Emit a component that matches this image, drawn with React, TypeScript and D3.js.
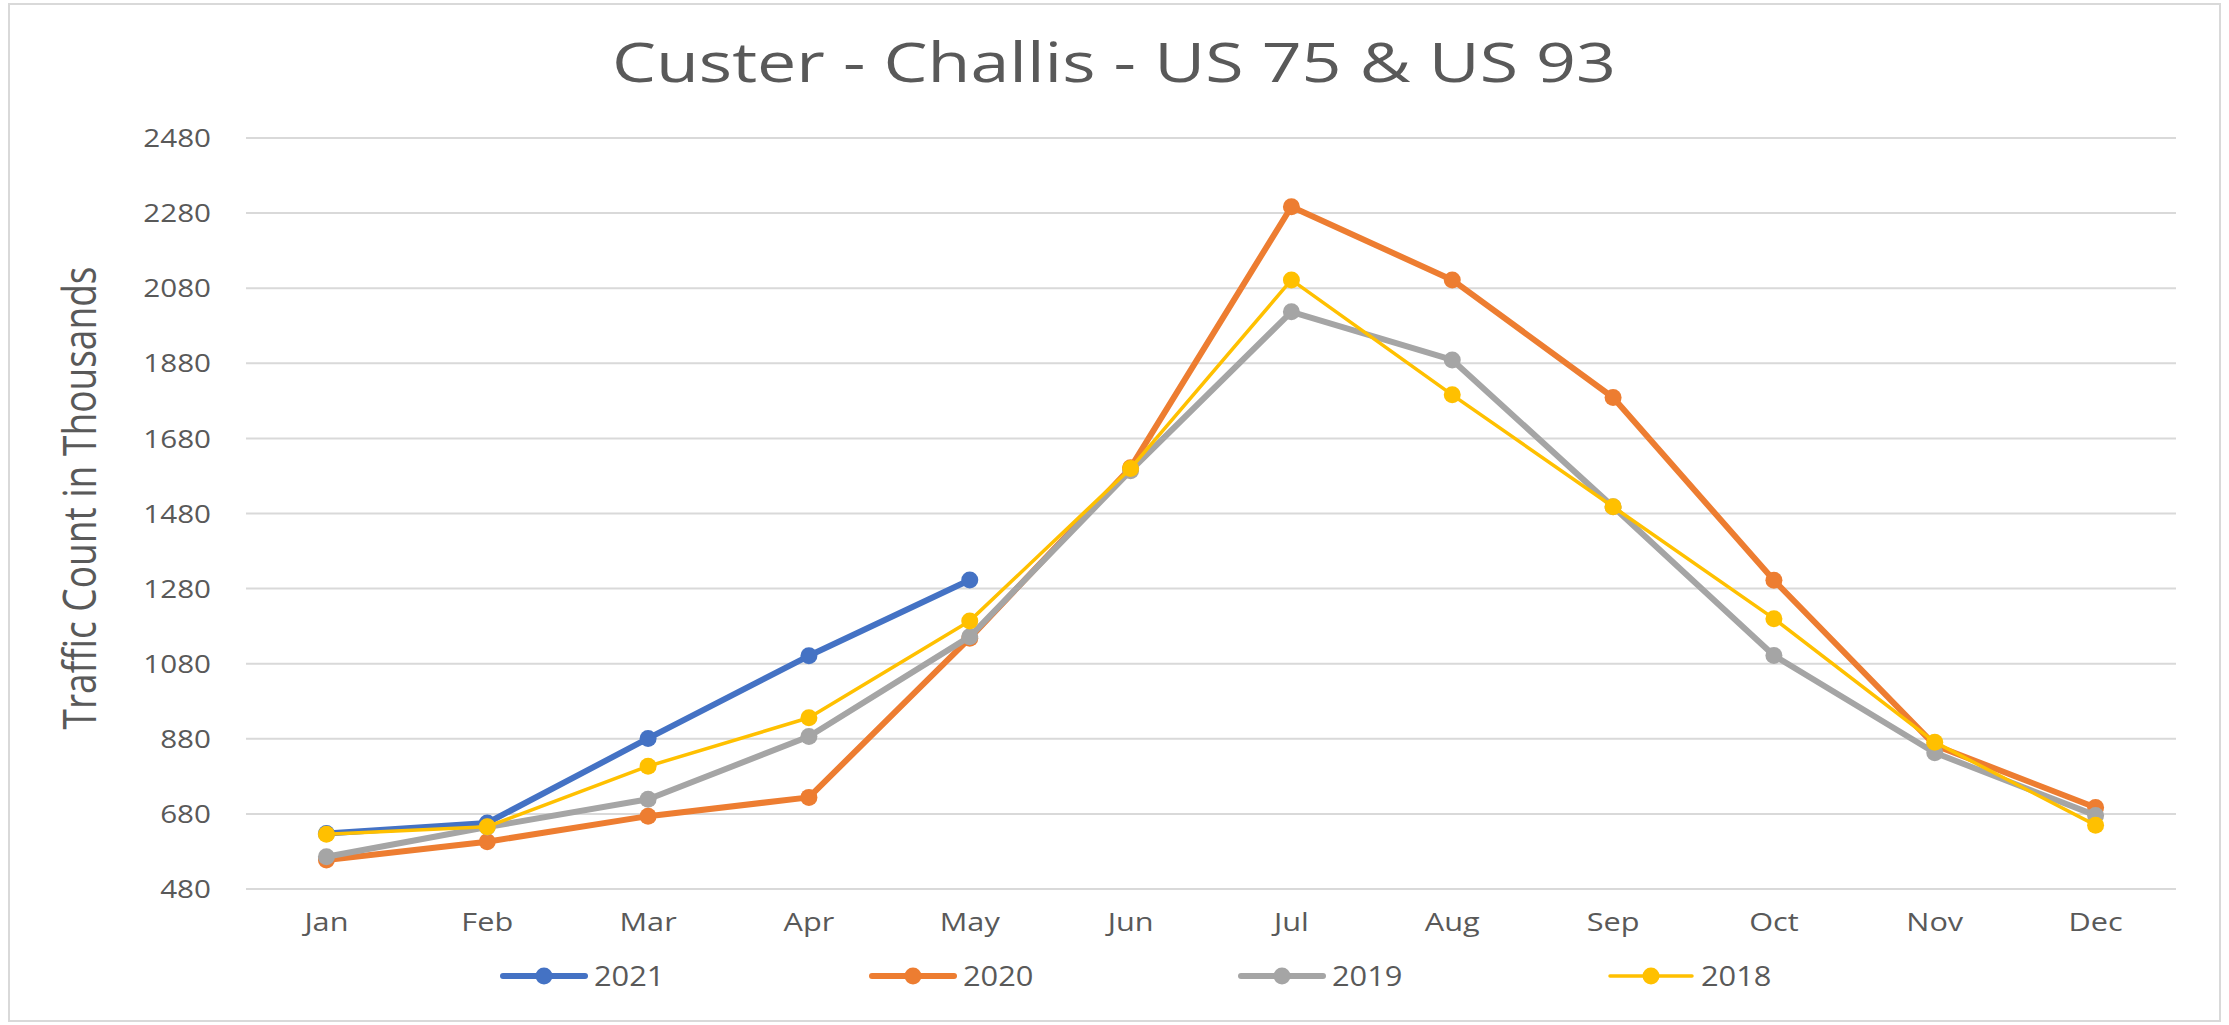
import React from "react";
import * as d3 from "d3";

const months = ["Jan", "Feb", "Mar", "Apr", "May", "Jun", "Jul", "Aug", "Sep", "Oct", "Nov", "Dec"];
const series2021 = [628, 656, 881, 1101, 1303];
const series2020 = [557, 606, 674, 724, 1148, 1602, 2297, 2102, 1789, 1302, 863, 697];
const series2019 = [566, 645, 719, 886, 1152, 1594, 2017, 1889, 1498, 1102, 843, 676];
const series2018 = [626, 646, 807, 936, 1194, 1600, 2102, 1796, 1498, 1200, 871, 650];
const yTicks = [480, 680, 880, 1080, 1280, 1480, 1680, 1880, 2080, 2280, 2480];
const seriesNames = ["2021", "2020", "2019", "2018"];
const seriesColors = ["#4472C4", "#ED7D31", "#A5A5A5", "#FFC000"];
const seriesWidths = [6, 6, 6, 3.5];

const W = 2229;
const H = 1025;
const plotLeft = 246;
const plotRight = 2176;
const plotTop = 138;
const plotBottom = 889;
const FONT = "'Open Sans', sans-serif";
const TEXT = "#595959";

export default function App() {
  const x = d3.scaleBand<string>().domain(months).range([plotLeft, plotRight]);
  const y = d3.scaleLinear().domain([480, 2480]).range([plotBottom, plotTop]);
  const cx = (m: string) => (x(m) as number) + x.bandwidth() / 2;
  const allSeries = [series2021, series2020, series2019, series2018];
  const line = d3
    .line<number>()
    .x((_, i) => cx(months[i]))
    .y((v) => y(v));

  return (
    <svg
      width={W}
      height={H}
      style={{ position: "absolute", left: 0, top: 0, background: "#fff" }}
      fontFamily={FONT}
    >
      <rect x={0} y={0} width={W} height={H} fill="#fff" />
      <rect x={9} y={4} width={2211} height={1017} fill="none" stroke="#D9D9D9" strokeWidth={2} />
      <text
        x={1114}
        y={82}
        textAnchor="middle"
        fontSize={55}
        fill={TEXT}
        textLength={1004}
        lengthAdjust="spacingAndGlyphs"
      >
        Custer - Challis - US 75 &amp; US 93
      </text>
      <text
        transform={`translate(96, ${498}) rotate(-90)`}
        textAnchor="middle"
        fontSize={46}
        fill={TEXT}
        textLength={463}
        lengthAdjust="spacingAndGlyphs"
      >
        Traffic Count in Thousands
      </text>
      {yTicks.map((t) => (
        <g key={t}>
          <line x1={plotLeft} x2={plotRight} y1={y(t)} y2={y(t)} stroke="#D9D9D9" strokeWidth={2} />
          <text
            transform={`translate(211, ${y(t)}) scale(1.14, 1)`}
            dy="0.35em"
            textAnchor="end"
            fontSize={26}
            fill={TEXT}
          >
            {t}
          </text>
        </g>
      ))}
      {months.map((m) => (
        <text
          key={m}
          transform={`translate(${cx(m)}, 931) scale(1.18, 1)`}
          textAnchor="middle"
          fontSize={26}
          fill={TEXT}
        >
          {m}
        </text>
      ))}
      {allSeries.map((s, k) => (
        <g key={seriesNames[k]}>
          <path
            d={line(s) as string}
            fill="none"
            stroke={seriesColors[k]}
            strokeWidth={seriesWidths[k]}
            strokeLinejoin="round"
            strokeLinecap="round"
          />
          {s.map((v, i) => (
            <circle key={i} cx={cx(months[i])} cy={y(v)} r={8.5} fill={seriesColors[k]} />
          ))}
        </g>
      ))}
      {seriesNames.map((name, k) => {
        const x0 = 503 + k * 369;
        return (
          <g key={name}>
            <line
              x1={x0}
              x2={x0 + 82}
              y1={976}
              y2={976}
              stroke={seriesColors[k]}
              strokeWidth={seriesWidths[k]}
              strokeLinecap="round"
            />
            <circle cx={x0 + 41} cy={976} r={8.5} fill={seriesColors[k]} />
            <text
              transform={`translate(${x0 + 91}, 976) scale(1.1, 1)`}
              dy="0.35em"
              fontSize={28}
              fill={TEXT}
            >
              {name}
            </text>
          </g>
        );
      })}
    </svg>
  );
}
